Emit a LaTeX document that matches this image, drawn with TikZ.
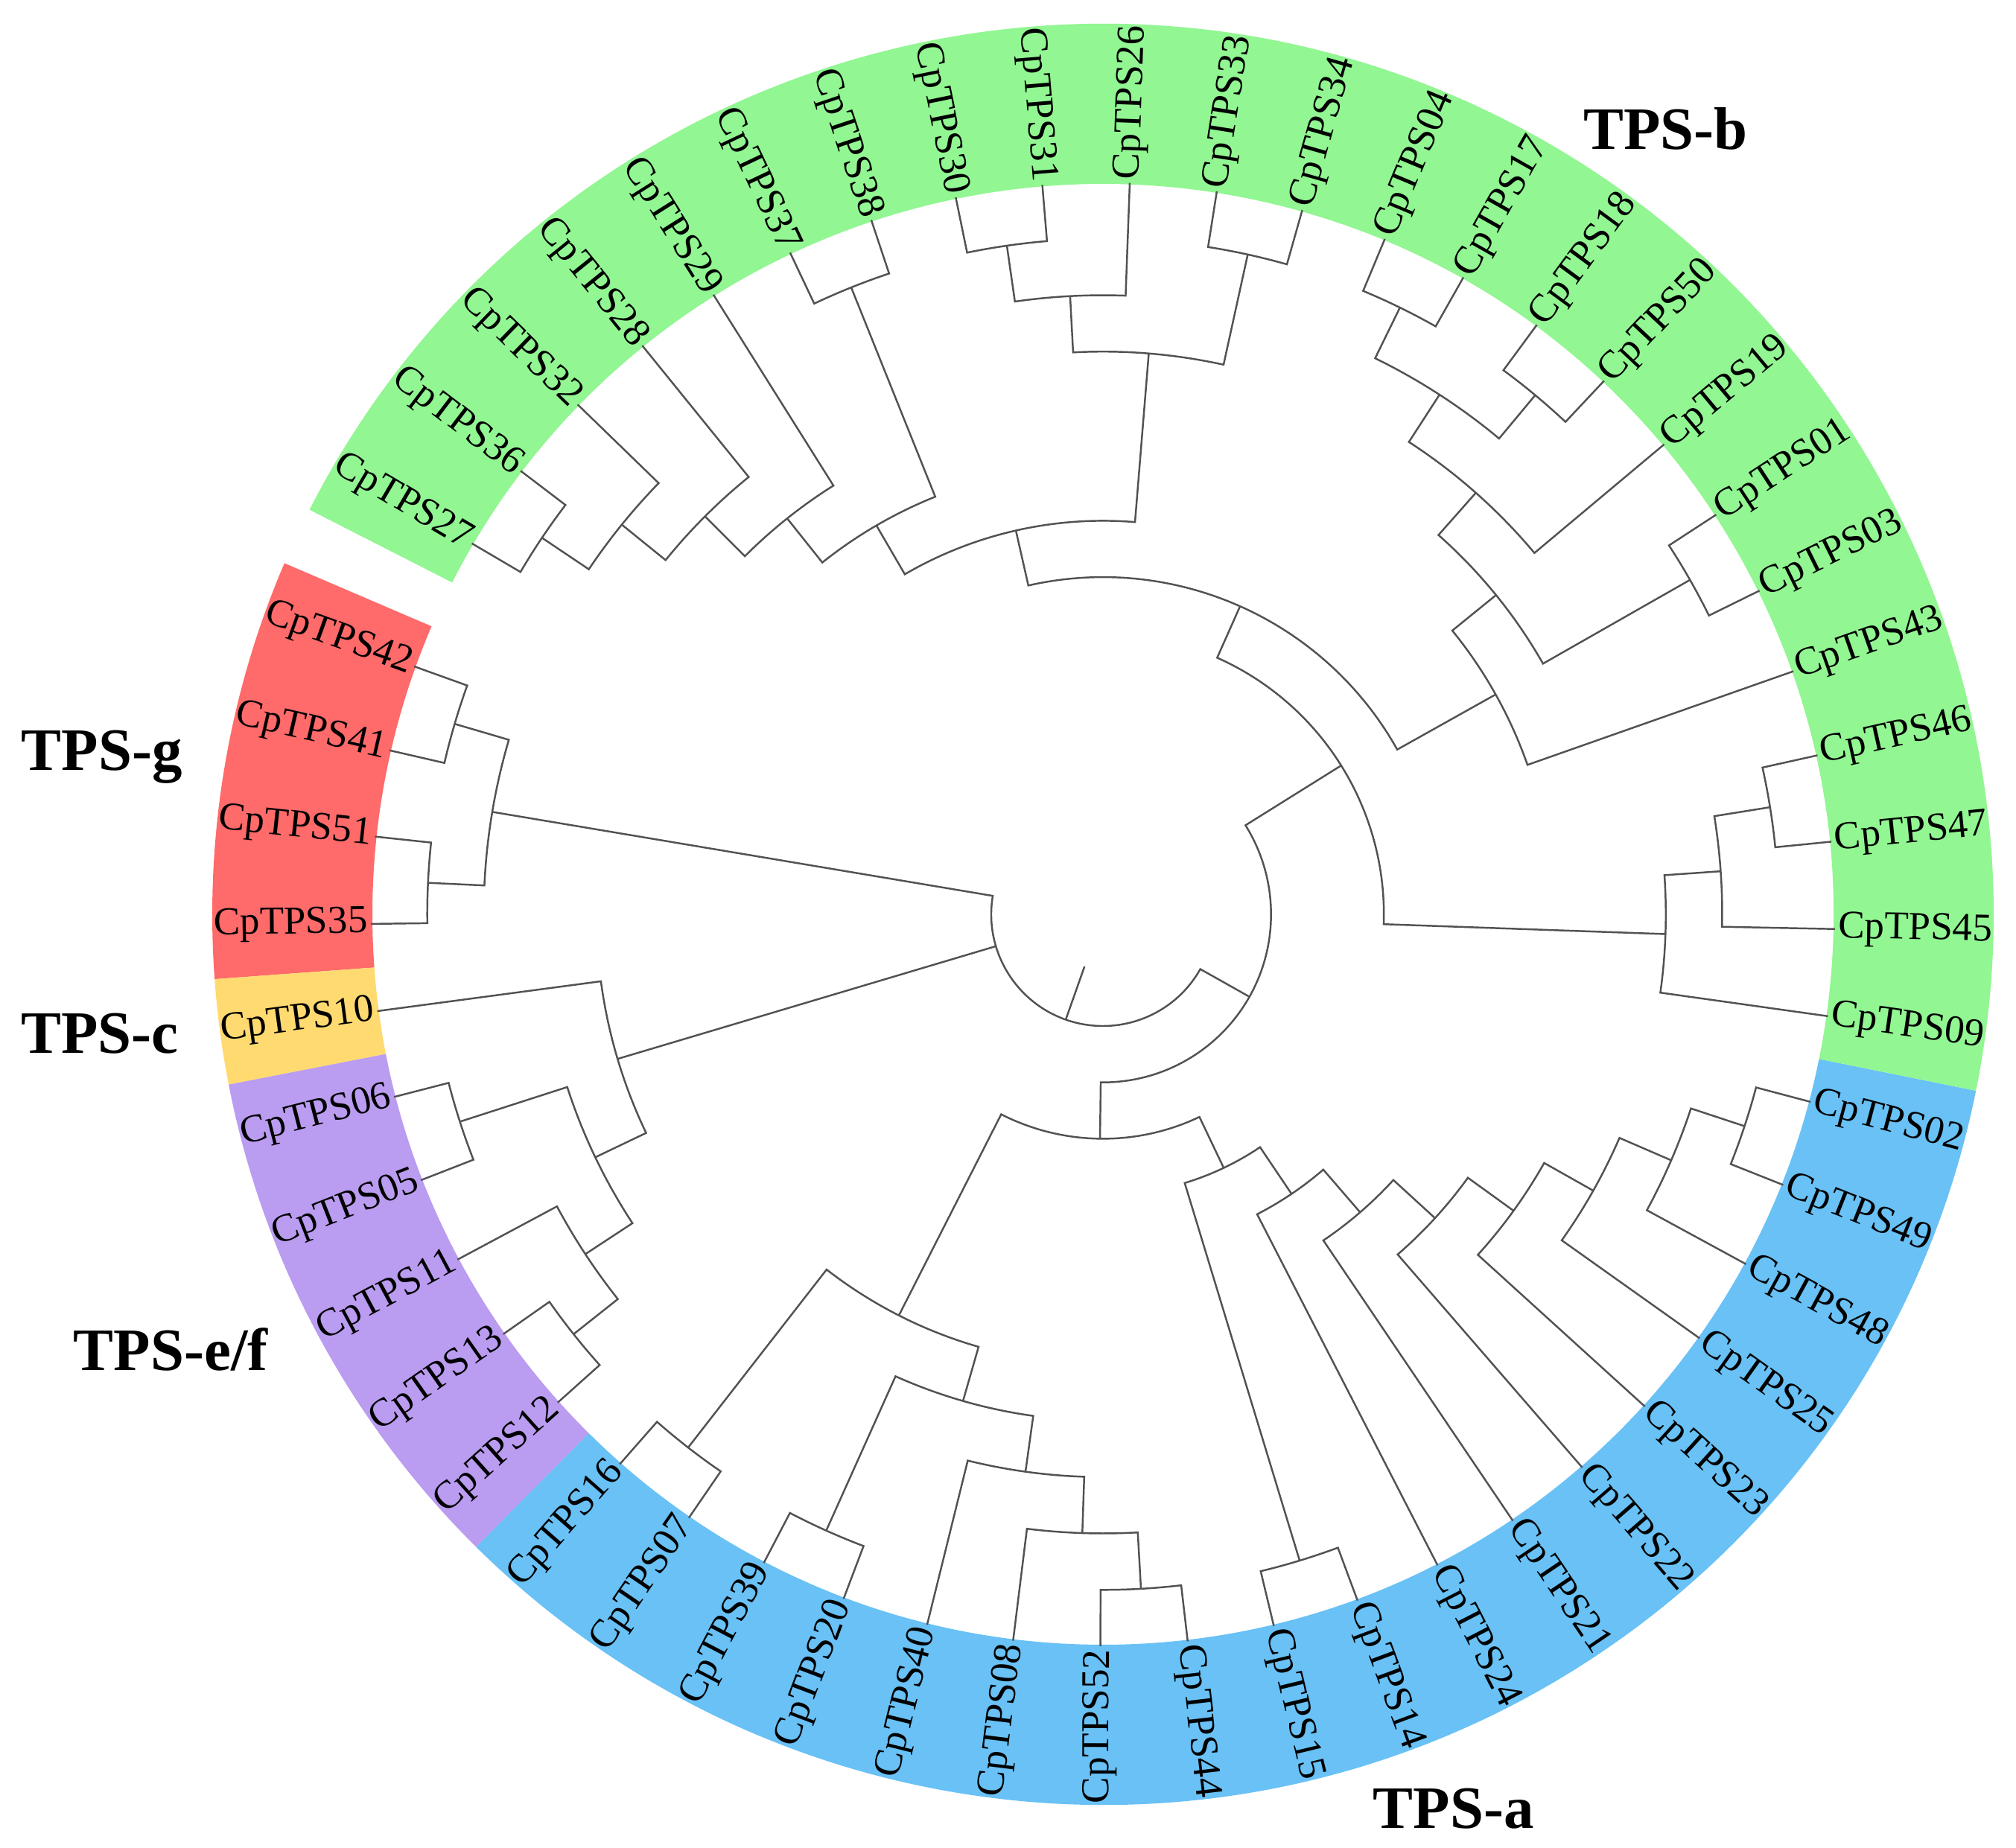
\documentclass[tikz,border=0pt]{standalone}
\usepackage{fontspec}
\setmainfont{Liberation Serif}
\usepackage{tikz}
\definecolor{tpsa}{RGB}{105,193,245}
\definecolor{tpsb}{RGB}{146,246,146}
\definecolor{tpsc}{RGB}{255,218,112}
\definecolor{tpsef}{RGB}{186,156,240}
\definecolor{tpsg}{RGB}{255,106,106}
\newcommand{\genefont}{\fontsize{15.1}{18}\selectfont}
\newcommand{\famfont}{\fontsize{23}{27}\selectfont\bfseries}
\pgfdeclarelayer{ringlayer}
\pgfdeclarelayer{edgelayer}
\pgfdeclarelayer{nodelayer}
\pgfsetlayers{ringlayer,edgelayer,nodelayer,main}
\tikzstyle{none}=[inner sep=0pt]
\tikzstyle{branch}=[draw=black!68, line width=0.7pt]
\tikzstyle{geneR}=[inner sep=0pt, anchor=west, text height=0.66em, text depth=0pt, font=\genefont]
\tikzstyle{geneL}=[style=geneR, anchor=east]
\tikzstyle{family}=[inner sep=0pt, anchor=base, font=\famfont]

\begin{document}
\begin{tikzpicture}
	\useasboundingbox (-14.81,-12.53) rectangle (12.26,12.28);
	\begin{pgfonlayer}{ringlayer}
		\fill [tpsg] (156.775:9.81) arc[start angle=156.775, end angle=184.175, radius=9.81] -- (184.175:11.96) arc[start angle=184.175, end angle=156.775, radius=11.96] -- cycle;
		\fill [tpsc] (184.175:9.81) arc[start angle=184.175, end angle=191.025, radius=9.81] -- (191.025:11.96) arc[start angle=191.025, end angle=184.175, radius=11.96] -- cycle;
		\fill [tpsef] (191.025:9.81) arc[start angle=191.025, end angle=225.275, radius=9.81] -- (225.275:11.96) arc[start angle=225.275, end angle=191.025, radius=11.96] -- cycle;
		\fill [tpsa] (225.275:9.81) arc[start angle=225.275, end angle=348.575, radius=9.81] -- (348.575:11.96) arc[start angle=348.575, end angle=225.275, radius=11.96] -- cycle;
		\fill [tpsb] (348.575:9.81) arc[start angle=348.575, end angle=512.975, radius=9.81] -- (512.975:11.96) arc[start angle=512.975, end angle=348.575, radius=11.96] -- cycle;
	\end{pgfonlayer}
	\begin{pgfonlayer}{nodelayer}
		% leaves, TPS-g / TPS-c / TPS-e/f
		\node [style=geneL, rotate=-19.8] (42) at (160.2:9.87) {CpTPS42}; \coordinate (t42) at (160.2:9.83);
		\node [style=geneL, rotate=-12.95] (41) at (167.05:9.87) {CpTPS41}; \coordinate (t41) at (167.05:9.83);
		\node [style=geneL, rotate=-6.1] (51) at (173.9:9.87) {CpTPS51}; \coordinate (t51) at (173.9:9.83);
		\node [style=geneL, rotate=0.75] (35) at (180.75:9.87) {CpTPS35}; \coordinate (t35) at (180.75:9.83);
		\node [style=geneL, rotate=7.6] (10) at (187.6:9.87) {CpTPS10}; \coordinate (t10) at (187.6:9.83);
		\node [style=geneL, rotate=14.45] (06) at (194.45:9.87) {CpTPS06}; \coordinate (t06) at (194.45:9.83);
		\node [style=geneL, rotate=21.3] (05) at (201.3:9.87) {CpTPS05}; \coordinate (t05) at (201.3:9.83);
		\node [style=geneL, rotate=28.15] (11) at (208.15:9.87) {CpTPS11}; \coordinate (t11) at (208.15:9.83);
		\node [style=geneL, rotate=35] (13) at (215:9.87) {CpTPS13}; \coordinate (t13) at (215:9.83);
		\node [style=geneL, rotate=41.85] (12) at (221.85:9.87) {CpTPS12}; \coordinate (t12) at (221.85:9.83);
		% leaves, TPS-a
		\node [style=geneL, rotate=48.7] (16) at (228.7:9.87) {CpTPS16}; \coordinate (t16) at (228.7:9.83);
		\node [style=geneL, rotate=55.55] (07) at (235.55:9.87) {CpTPS07}; \coordinate (t07) at (235.55:9.83);
		\node [style=geneL, rotate=62.4] (39) at (242.4:9.87) {CpTPS39}; \coordinate (t39) at (242.4:9.83);
		\node [style=geneL, rotate=69.25] (20) at (249.25:9.87) {CpTPS20}; \coordinate (t20) at (249.25:9.83);
		\node [style=geneL, rotate=76.1] (40) at (256.1:9.87) {CpTPS40}; \coordinate (t40) at (256.1:9.83);
		\node [style=geneL, rotate=82.95] (08) at (262.95:9.87) {CpTPS08}; \coordinate (t08) at (262.95:9.83);
		\node [style=geneL, rotate=89.8] (52) at (269.8:9.87) {CpTPS52}; \coordinate (t52) at (269.8:9.83);
		\node [style=geneR, rotate=276.65] (44) at (276.65:9.87) {CpTPS44}; \coordinate (t44) at (276.65:9.83);
		\node [style=geneR, rotate=283.5] (15) at (283.5:9.87) {CpTPS15}; \coordinate (t15) at (283.5:9.83);
		\node [style=geneR, rotate=290.35] (14) at (290.35:9.87) {CpTPS14}; \coordinate (t14) at (290.35:9.83);
		\node [style=geneR, rotate=297.2] (24) at (297.2:9.87) {CpTPS24}; \coordinate (t24) at (297.2:9.83);
		\node [style=geneR, rotate=304.05] (21) at (304.05:9.87) {CpTPS21}; \coordinate (t21) at (304.05:9.83);
		\node [style=geneR, rotate=310.9] (22) at (310.9:9.87) {CpTPS22}; \coordinate (t22) at (310.9:9.83);
		\node [style=geneR, rotate=317.75] (23) at (317.75:9.87) {CpTPS23}; \coordinate (t23) at (317.75:9.83);
		\node [style=geneR, rotate=324.6] (25) at (324.6:9.87) {CpTPS25}; \coordinate (t25) at (324.6:9.83);
		\node [style=geneR, rotate=331.45] (48) at (331.45:9.87) {CpTPS48}; \coordinate (t48) at (331.45:9.83);
		\node [style=geneR, rotate=338.3] (49) at (338.3:9.87) {CpTPS49}; \coordinate (t49) at (338.3:9.83);
		\node [style=geneR, rotate=345.15] (02) at (345.15:9.87) {CpTPS02}; \coordinate (t02) at (345.15:9.83);
		% leaves, TPS-b
		\node [style=geneR, rotate=352] (09) at (352:9.87) {CpTPS09}; \coordinate (t09) at (352:9.83);
		\node [style=geneR, rotate=358.85] (45) at (358.85:9.87) {CpTPS45}; \coordinate (t45) at (358.85:9.83);
		\node [style=geneR, rotate=365.7] (47) at (365.7:9.87) {CpTPS47}; \coordinate (t47) at (365.7:9.83);
		\node [style=geneR, rotate=372.55] (46) at (372.55:9.87) {CpTPS46}; \coordinate (t46) at (372.55:9.83);
		\node [style=geneR, rotate=379.4] (43) at (379.4:9.87) {CpTPS43}; \coordinate (t43) at (379.4:9.83);
		\node [style=geneR, rotate=386.25] (03) at (386.25:9.87) {CpTPS03}; \coordinate (t03) at (386.25:9.83);
		\node [style=geneR, rotate=393.1] (01) at (393.1:9.87) {CpTPS01}; \coordinate (t01) at (393.1:9.83);
		\node [style=geneR, rotate=399.95] (19) at (399.95:9.87) {CpTPS19}; \coordinate (t19) at (399.95:9.83);
		\node [style=geneR, rotate=406.8] (50) at (406.8:9.87) {CpTPS50}; \coordinate (t50) at (406.8:9.83);
		\node [style=geneR, rotate=413.65] (18) at (413.65:9.87) {CpTPS18}; \coordinate (t18) at (413.65:9.83);
		\node [style=geneR, rotate=420.5] (17) at (420.5:9.87) {CpTPS17}; \coordinate (t17) at (420.5:9.83);
		\node [style=geneR, rotate=427.35] (04) at (427.35:9.87) {CpTPS04}; \coordinate (t04) at (427.35:9.83);
		\node [style=geneR, rotate=434.2] (34) at (434.2:9.87) {CpTPS34}; \coordinate (t34) at (434.2:9.83);
		\node [style=geneR, rotate=441.05] (33) at (441.05:9.87) {CpTPS33}; \coordinate (t33) at (441.05:9.83);
		\node [style=geneR, rotate=447.9] (26) at (447.9:9.87) {CpTPS26}; \coordinate (t26) at (447.9:9.83);
		\node [style=geneL, rotate=274.75] (31) at (454.75:9.87) {CpTPS31}; \coordinate (t31) at (454.75:9.83);
		\node [style=geneL, rotate=281.6] (30) at (461.6:9.87) {CpTPS30}; \coordinate (t30) at (461.6:9.83);
		\node [style=geneL, rotate=288.45] (38) at (468.45:9.87) {CpTPS38}; \coordinate (t38) at (468.45:9.83);
		\node [style=geneL, rotate=295.3] (37) at (475.3:9.87) {CpTPS37}; \coordinate (t37) at (475.3:9.83);
		\node [style=geneL, rotate=302.15] (29) at (482.15:9.87) {CpTPS29}; \coordinate (t29) at (482.15:9.83);
		\node [style=geneL, rotate=309] (28) at (489:9.87) {CpTPS28}; \coordinate (t28) at (489:9.83);
		\node [style=geneL, rotate=315.85] (32) at (495.85:9.87) {CpTPS32}; \coordinate (t32) at (495.85:9.83);
		\node [style=geneL, rotate=322.7] (36) at (502.7:9.87) {CpTPS36}; \coordinate (t36) at (502.7:9.83);
		\node [style=geneL, rotate=329.55] (27) at (509.55:9.87) {CpTPS27}; \coordinate (t27) at (509.55:9.83);
		% inner nodes
		\coordinate (n1) at (506.125:9.073);
		\coordinate (n2) at (500.99:8.315);
		\coordinate (n3) at (494.99:7.558);
		\coordinate (n4) at (488.57:6.801);
		\coordinate (n5) at (471.875:9.073);
		\coordinate (n6) at (480.22:6.044);
		\coordinate (n7) at (458.175:9.073);
		\coordinate (n8) at (453.04:8.315);
		\coordinate (n9) at (437.625:9.073);
		\coordinate (n10) at (445.33:7.558);
		\coordinate (n11) at (462.78:5.286);
		\coordinate (n12) at (423.925:9.073);
		\coordinate (n13) at (410.225:9.073);
		\coordinate (n14) at (417.075:8.315);
		\coordinate (n15) at (408.51:7.558);
		\coordinate (n16) at (389.675:9.073);
		\coordinate (n17) at (399.09:6.801);
		\coordinate (n18) at (389.25:6.044);
		\coordinate (n19) at (426.01:4.529);
		\coordinate (n20) at (369.125:9.073);
		\coordinate (n21) at (363.99:8.315);
		\coordinate (n22) at (357.99:7.558);
		\coordinate (n23) at (392:3.772);
		\coordinate (n24) at (232.125:9.073);
		\coordinate (n25) at (245.825:9.073);
		\coordinate (n26) at (273.225:9.073);
		\coordinate (n27) at (268.09:8.315);
		\coordinate (n28) at (262.09:7.558);
		\coordinate (n29) at (253.96:6.801);
		\coordinate (n30) at (243.04:6.044);
		\coordinate (n31) at (286.925:9.073);
		\coordinate (n32) at (341.725:9.073);
		\coordinate (n33) at (336.59:8.315);
		\coordinate (n34) at (330.59:7.558);
		\coordinate (n35) at (324.17:6.801);
		\coordinate (n36) at (317.54:6.044);
		\coordinate (n37) at (310.79:5.286);
		\coordinate (n38) at (304:4.529);
		\coordinate (n39) at (295.46:3.772);
		\coordinate (n40) at (269.25:3.014);
		\coordinate (n41) at (330.63:2.257);
		\coordinate (n42) at (163.625:9.073);
		\coordinate (n43) at (177.325:9.073);
		\coordinate (n44) at (170.475:8.315);
		\coordinate (n45) at (197.875:9.073);
		\coordinate (n46) at (218.425:9.073);
		\coordinate (n47) at (213.29:8.315);
		\coordinate (n48) at (205.58:7.558);
		\coordinate (n49) at (196.59:6.801);
		\coordinate (n49r) at (196.59:1.5);
		\coordinate (n50) at (250.55:1.5);
		\coordinate (n0) at (250.55:0.742);
		% clade labels
		\node [style=family] (fb) at (7.557,10.28) {TPS-b};
		\node [style=family] (fg) at (-13.443,1.931) {TPS-g};
		\node [style=family] (fc) at (-13.472,-1.866) {TPS-c};
		\node [style=family] (fef) at (-12.518,-6.122) {TPS-e/f};
		\node [style=family] (fa) at (4.707,-12.27) {TPS-a};
	\end{pgfonlayer}
	\begin{pgfonlayer}{edgelayer}
		% TPS-b
		\draw [style=branch] (t36) -- (502.7:9.073) arc[start angle=502.7, end angle=509.55, radius=9.073] -- (t27);
		\draw [style=branch] (t32) -- (495.85:8.315) arc[start angle=495.85, end angle=506.125, radius=8.315] -- (n1);
		\draw [style=branch] (t28) -- (489:7.558) arc[start angle=489, end angle=500.99, radius=7.558] -- (n2);
		\draw [style=branch] (t29) -- (482.15:6.801) arc[start angle=482.15, end angle=494.99, radius=6.801] -- (n3);
		\draw [style=branch] (t38) -- (468.45:9.073) arc[start angle=468.45, end angle=475.3, radius=9.073] -- (t37);
		\draw [style=branch] (n5) -- (471.875:6.044) arc[start angle=471.875, end angle=488.57, radius=6.044] -- (n4);
		\draw [style=branch] (t31) -- (454.75:9.073) arc[start angle=454.75, end angle=461.6, radius=9.073] -- (t30);
		\draw [style=branch] (t26) -- (447.9:8.315) arc[start angle=447.9, end angle=458.175, radius=8.315] -- (n7);
		\draw [style=branch] (t34) -- (434.2:9.073) arc[start angle=434.2, end angle=441.05, radius=9.073] -- (t33);
		\draw [style=branch] (n9) -- (437.625:7.558) arc[start angle=437.625, end angle=453.04, radius=7.558] -- (n8);
		\draw [style=branch] (n10) -- (445.33:5.286) arc[start angle=445.33, end angle=480.22, radius=5.286] -- (n6);
		\draw [style=branch] (t17) -- (420.5:9.073) arc[start angle=420.5, end angle=427.35, radius=9.073] -- (t04);
		\draw [style=branch] (t50) -- (406.8:9.073) arc[start angle=406.8, end angle=413.65, radius=9.073] -- (t18);
		\draw [style=branch] (n13) -- (410.225:8.315) arc[start angle=410.225, end angle=423.925, radius=8.315] -- (n12);
		\draw [style=branch] (t19) -- (399.95:7.558) arc[start angle=399.95, end angle=417.075, radius=7.558] -- (n14);
		\draw [style=branch] (t03) -- (386.25:9.073) arc[start angle=386.25, end angle=393.1, radius=9.073] -- (t01);
		\draw [style=branch] (n16) -- (389.675:6.801) arc[start angle=389.675, end angle=408.51, radius=6.801] -- (n15);
		\draw [style=branch] (t43) -- (379.4:6.044) arc[start angle=379.4, end angle=399.09, radius=6.044] -- (n17);
		\draw [style=branch] (n18) -- (389.25:4.529) arc[start angle=389.25, end angle=462.78, radius=4.529] -- (n11);
		\draw [style=branch] (t47) -- (365.7:9.073) arc[start angle=365.7, end angle=372.55, radius=9.073] -- (t46);
		\draw [style=branch] (t45) -- (358.85:8.315) arc[start angle=358.85, end angle=369.125, radius=8.315] -- (n20);
		\draw [style=branch] (t09) -- (352:7.558) arc[start angle=352, end angle=363.99, radius=7.558] -- (n21);
		\draw [style=branch] (n22) -- (357.99:3.772) arc[start angle=357.99, end angle=426.01, radius=3.772] -- (n19);
		% TPS-a
		\draw [style=branch] (t16) -- (228.7:9.073) arc[start angle=228.7, end angle=235.55, radius=9.073] -- (t07);
		\draw [style=branch] (t39) -- (242.4:9.073) arc[start angle=242.4, end angle=249.25, radius=9.073] -- (t20);
		\draw [style=branch] (t52) -- (269.8:9.073) arc[start angle=269.8, end angle=276.65, radius=9.073] -- (t44);
		\draw [style=branch] (t08) -- (262.95:8.315) arc[start angle=262.95, end angle=273.225, radius=8.315] -- (n26);
		\draw [style=branch] (t40) -- (256.1:7.558) arc[start angle=256.1, end angle=268.09, radius=7.558] -- (n27);
		\draw [style=branch] (n25) -- (245.825:6.801) arc[start angle=245.825, end angle=262.09, radius=6.801] -- (n28);
		\draw [style=branch] (n24) -- (232.125:6.044) arc[start angle=232.125, end angle=253.96, radius=6.044] -- (n29);
		\draw [style=branch] (t15) -- (283.5:9.073) arc[start angle=283.5, end angle=290.35, radius=9.073] -- (t14);
		\draw [style=branch] (t49) -- (338.3:9.073) arc[start angle=338.3, end angle=345.15, radius=9.073] -- (t02);
		\draw [style=branch] (t48) -- (331.45:8.315) arc[start angle=331.45, end angle=341.725, radius=8.315] -- (n32);
		\draw [style=branch] (t25) -- (324.6:7.558) arc[start angle=324.6, end angle=336.59, radius=7.558] -- (n33);
		\draw [style=branch] (t23) -- (317.75:6.801) arc[start angle=317.75, end angle=330.59, radius=6.801] -- (n34);
		\draw [style=branch] (t22) -- (310.9:6.044) arc[start angle=310.9, end angle=324.17, radius=6.044] -- (n35);
		\draw [style=branch] (t21) -- (304.05:5.286) arc[start angle=304.05, end angle=317.54, radius=5.286] -- (n36);
		\draw [style=branch] (t24) -- (297.2:4.529) arc[start angle=297.2, end angle=310.79, radius=4.529] -- (n37);
		\draw [style=branch] (n31) -- (286.925:3.772) arc[start angle=286.925, end angle=304, radius=3.772] -- (n38);
		\draw [style=branch] (n30) -- (243.04:3.014) arc[start angle=243.04, end angle=295.46, radius=3.014] -- (n39);
		\draw [style=branch] (n40) -- (269.25:2.257) arc[start angle=269.25, end angle=392, radius=2.257] -- (n23);
		% TPS-g, TPS-c, TPS-e/f
		\draw [style=branch] (t42) -- (160.2:9.073) arc[start angle=160.2, end angle=167.05, radius=9.073] -- (t41);
		\draw [style=branch] (t51) -- (173.9:9.073) arc[start angle=173.9, end angle=180.75, radius=9.073] -- (t35);
		\draw [style=branch] (n42) -- (163.625:8.315) arc[start angle=163.625, end angle=177.325, radius=8.315] -- (n43);
		\draw [style=branch] (t06) -- (194.45:9.073) arc[start angle=194.45, end angle=201.3, radius=9.073] -- (t05);
		\draw [style=branch] (t13) -- (215:9.073) arc[start angle=215, end angle=221.85, radius=9.073] -- (t12);
		\draw [style=branch] (t11) -- (208.15:8.315) arc[start angle=208.15, end angle=218.425, radius=8.315] -- (n46);
		\draw [style=branch] (n45) -- (197.875:7.558) arc[start angle=197.875, end angle=213.29, radius=7.558] -- (n47);
		\draw [style=branch] (t10) -- (187.6:6.801) arc[start angle=187.6, end angle=205.58, radius=6.801] -- (n48);
		% root
		\draw [style=branch] (n44) -- (170.475:1.5) arc[start angle=170.475, end angle=330.63, radius=1.5] -- (n41);
		\draw [style=branch] (n49) -- (n49r);
		\draw [style=branch] (n50) -- (n0);
	\end{pgfonlayer}
\end{tikzpicture}
\end{document}
